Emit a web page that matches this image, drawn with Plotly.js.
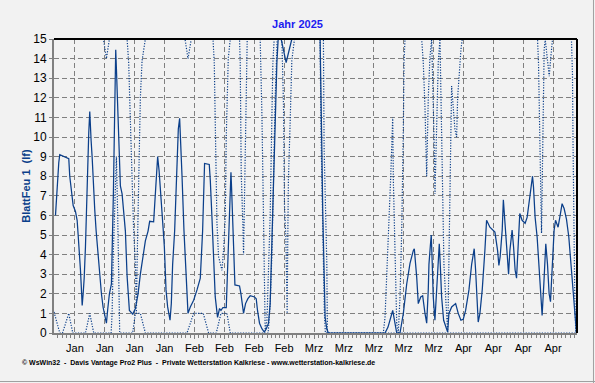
<!DOCTYPE html>
<html><head><meta charset="utf-8">
<script src="https://cdn.plot.ly/plotly-3.0.1.min.js"></script>
<style>html,body{margin:0;padding:0;background:#f2f2f2;}#chart{width:595px;height:383px;}</style>
</head><body><div id="chart"></div>
<script>
// x values: days since 1 Jan 2025 00:00
const tickDays   = [5,12,19,26,33,40,47,54,61,68,75,82,89,96,103,110,117];
const tickLabels = ['Jan','Jan','Jan','Jan','Feb','Feb','Feb','Feb','Mrz','Mrz','Mrz','Mrz','Mrz','Apr','Apr','Apr','Apr'];

// average leaf wetness (solid line)
const avgDay = [
 0.44,0.67,0.98,1.21,1.44,3.55,3.78,4.34,4.58,5.12,
 5.51,5.75,6.12,6.29,6.52,6.69,6.92,7.16,7.46,7.69,
 8.0,8.23,8.47,8.63,8.79,9.02,9.4,9.63,9.96,10.33,
 10.8,11.2,11.6,12.13,12.37,12.67,13.07,13.54,13.77,14.0,
 14.24,14.47,14.55,14.71,14.94,15.17,15.41,15.64,16.04,16.42,
 16.81,17.21,17.44,17.75,18.38,18.52,19.15,19.78,20.32,20.95,
 21.49,22.12,22.5,23.43,23.83,24.06,24.37,24.7,25.0,25.4,
 25.63,25.94,26.33,26.71,27.27,27.57,27.88,28.35,28.82,29.21,
 29.52,29.75,30.08,30.54,31.08,31.48,32.02,32.8,33.59,34.36,
 34.9,35.36,36.46,36.7,37.09,37.47,37.86,38.4,38.87,39.2,
 39.66,40.44,40.74,41.07,41.3,41.54,41.68,41.92,42.15,42.47,
 43.55,43.88,44.49,44.96,45.51,46.05,47.06,47.46,47.76,48.23,
 48.79,49.33,49.8,50.34,50.73,50.97,51.36,51.67,51.97,52.3,
 52.6,53.3,54.47,55.8,62.42,62.58,62.82,63.05,63.36,63.6,
 64.0,64.37,77.63,78.33,79.43,80.37,81.14,81.92,82.71,83.48,
 84.25,84.49,85.05,85.42,85.99,86.45,86.99,87.39,87.76,87.92,
 88.23,88.46,88.7,88.93,89.32,89.72,90.1,90.34,90.57,90.89,
 91.36,91.83,92.3,92.6,93.24,94.17,94.78,95.41,95.95,96.51,
 97.29,97.92,98.52,98.85,99.15,99.46,99.86,100.4,101.02,101.42,
 102.2,102.97,103.37,104.0,104.3,104.6,105.08,105.35,105.7,105.94,
 106.25,106.57,106.87,107.17,107.4,107.74,108.11,108.44,108.74,109.2,
 109.75,110.45,110.92,111.39,111.79,112.18,112.41,112.79,113.26,113.58,
 114.05,114.43,114.83,115.29,115.69,116.07,116.39,116.77,117.24,117.57,
 118.17,118.73,119.11,119.58,120.14,120.68,121.15,121.69,122.08,122.48
];
const avgVal = [
 6.0,7.0,8.0,8.7,9.1,8.9,8.0,7.0,6.5,6.2,
 5.75,5.0,4.0,3.2,2.2,1.4,2.0,2.8,4.4,6.3,
 8.3,10.2,11.3,10.8,9.8,9.0,7.1,6.3,5.2,4.2,
 3.0,2.0,1.3,0.65,0.5,1.2,2.0,2.5,4.2,7.1,
 10.4,12.9,14.45,13.5,12.1,10.4,8.3,7.5,7.1,6.3,
 5.2,2.9,1.8,1.15,1.0,0.95,1.25,2.0,3.0,3.9,
 4.7,5.2,5.7,5.67,6.95,8.0,9.0,8.3,7.5,6.3,
 5.4,4.4,2.2,1.33,0.65,1.5,3.5,5.2,7.8,10.4,
 10.95,10.0,8.0,5.2,2.35,1.0,1.33,1.67,2.2,2.8,
 5.2,8.65,8.6,7.8,5.9,3.5,1.84,0.8,1.25,1.15,
 1.3,1.3,3.5,5.2,7.45,8.2,7.45,5.9,3.5,2.45,
 2.4,2.0,1.0,1.5,1.75,1.9,1.84,1.75,1.15,0.5,
 0.22,0.05,0.2,0.5,1.5,3.5,6.6,9.5,12.1,13.8,
 15,15,13.8,15,15,13.25,9.5,6.1,2.7,0.8,
 0.2,0,0,0.3,1.15,0,0,1.0,2.5,3.55,
 4.2,4.3,2.85,1.5,1.84,1.9,1.0,0.5,2.2,3.5,
 4.4,5.0,3.5,1.84,0.65,2.0,3.5,4.55,3.5,1.84,
 0.65,0.3,0.05,1.0,1.33,1.5,1.0,0.65,0.7,1.15,
 2.2,3.5,4.3,3.2,1.84,0.56,1.0,2.2,4.2,5.75,
 5.4,5.25,5.15,4.2,3.45,3.9,5.25,6.8,5.75,4.9,
 3.9,3.0,4.2,4.9,5.25,4.4,3.2,2.8,4.4,6.1,
 5.75,5.6,5.9,6.6,7.45,8.0,7.45,5.9,4.9,3.9,
 2.2,0.9,2.5,4.55,3.5,2.0,1.6,3.5,5.25,5.75,
 5.4,6.1,6.6,6.35,5.8,4.9,3.55,1.84,1.0,0
];

// upper dotted series
const maxDay = [
 0.1,11.67,12.37,13.07,17.21,17.59,17.82,18.15,18.52,18.75,
 19.15,19.39,19.55,19.92,20.32,20.72,21.49,30.78,31.48,32.25,
 37.33,37.63,37.98,38.26,38.64,39.43,39.81,40.2,40.44,40.91,
 41.38,43.55,43.71,43.95,44.35,44.49,45.05,45.35,48.39,48.79,
 49.16,49.4,49.56,49.96,50.73,51.13,51.36,51.67,63.2,63.36,
 63.6,64.0,64.14,77.23,77.63,78.02,78.4,78.64,78.97,79.2,
 79.43,79.58,79.81,80.14,80.37,80.74,81.14,81.54,81.77,81.92,
 82.08,82.31,86.22,86.59,86.99,87.39,87.76,88.16,88.56,88.93,
 89.16,89.33,89.72,90.1,90.5,90.73,90.89,91.13,91.43,91.83,
 92.06,92.3,92.44,92.67,93.0,93.23,94.0,94.4,94.64,94.94,
 95.41,95.72,113.35,113.58,113.75,113.99,114.15,114.29,114.52,114.68,
 114.91,115.15,115.45,115.69,116.09,116.48,116.86,121.3,121.54,121.68,
 121.85,122.08,122.31,122.6
];
const maxVal = [
 15,15,14,15,15,13.76,12.0,9.5,7.8,5.2,
 3.5,1.0,3.5,7.8,12,13.9,15,15,14.0,15,
 15,13.8,9,5.6,3.9,3.2,4.2,5.9,10,14,
 15,15,13.8,8.1,5.4,4.0,11.2,15,15,11.2,
 6,2,0.1,0.6,6,11,13.8,15,15,9.5,
 7,3.5,0,0,0.8,2.7,4.55,5.9,8,9.5,
 11.0,7.8,5.6,2.5,0.5,0,1.84,5.2,7.8,10.4,
 13.8,15,15,13.8,11.5,8.0,12.0,14.1,15,12,
 9.5,7.1,10.4,13.8,15,12,8.65,6.1,3.5,1.84,
 0.65,0.05,1.5,5.25,8.3,12.6,10.4,10.0,12,13.1,
 14.45,15,15,13.8,11.2,8,6.3,5.1,8.65,12,
 14.45,15,14.45,13.8,13.1,14.1,15,15,13.2,9.5,
 5.25,1.84,0,0
];

// lower dotted series
const minDay = [
 0.1,1.44,2.08,3.55,4.49,7.46,8.47,9.4,13.47,13.7,
 14.0,14.47,14.71,15.01,15.25,15.48,18.52,19.15,20.32,21.49,
 31.25,32.8,35.06,36.3,38.1,39.2,40.6,41.38,50.26,50.73,
 51.13,51.5,51.9,52.37,53.47,53.84,54.08,54.4,54.64,54.71,
 54.87,55.0,55.4,55.8,56.42,62.42,62.65,63.05,63.43,63.66,
 122.6
];
const minVal = [
 1.07,0,0,1.0,0,0,1.0,0,0,1.0,
 4.2,7.0,9.0,6,2,0,0,1.0,1.0,0,
 0,1.0,1.0,0,0,1.0,1.0,0,0,1.5,
 4,8,12,15,15,11.7,6.5,4.9,2.5,1.0,
 5.2,7.8,10.7,13.9,15,15,10,5,1,0,
 0
];

const lineColor = '#0b3f8a';
const gridCol = '#808080';

const traces = [
  {x:maxDay, y:maxVal, type:'scatter', mode:'lines', line:{color:lineColor, width:1.2, dash:'1.2px,1.5px'}, hoverinfo:'skip'},
  {x:minDay, y:minVal, type:'scatter', mode:'lines', line:{color:lineColor, width:1.2, dash:'1.2px,1.5px'}, hoverinfo:'skip'},
  {x:avgDay, y:avgVal, type:'scatter', mode:'lines', line:{color:lineColor, width:1.25}, hoverinfo:'skip'}
];

const layout = {
  width:595, height:383,
  paper_bgcolor:'#f2f2f2', plot_bgcolor:'#f2f2f2',
  margin:{l:54, r:18, t:39, b:50, pad:0},
  showlegend:false,
  font:{family:'Arial, Liberation Sans, sans-serif', size:11, color:'#000'},
  title:{text:'Jahr 2025', font:{family:'Arial, Liberation Sans, sans-serif', size:11, color:'#1c1cf0', weight:'bold'},
         x:0.5, xref:'container', xanchor:'center', y:1-24/383, yref:'container', yanchor:'middle'},
  xaxis:{
    range:[0.09,122.6], tickmode:'array', tickvals:tickDays, ticktext:tickLabels,
    showgrid:true, gridcolor:gridCol, gridwidth:1, griddash:'5px,3px',
    zeroline:false, showline:true, linecolor:gridCol, linewidth:2,
    ticks:'outside', ticklen:4, tickcolor:gridCol, tickwidth:1,
    tickfont:{family:'Arial, Liberation Sans, sans-serif', size:11, color:'#000'},
    minor:{tickmode:'linear', tick0:0, dtick:1, ticks:'outside', ticklen:3, tickcolor:gridCol, showgrid:false}
  },
  yaxis:{
    range:[0,15], tickmode:'linear', tick0:0, dtick:1,
    showgrid:true, gridcolor:gridCol, gridwidth:1, griddash:'5px,3px',
    zeroline:false, showline:true, linecolor:gridCol, linewidth:2,
    ticks:'outside', ticklen:3, tickcolor:gridCol, tickwidth:1,
    tickfont:{family:'Arial, Liberation Sans, sans-serif', size:12, color:'#000'},
    title:{text:'BlattFeu 1  (lf)', standoff:0, font:{family:'Arial, Liberation Sans, sans-serif', size:11, color:'#0b3f8a', weight:'bold'}}
  },
  shapes:[
    {type:'line', xref:'paper', yref:'paper', x0:0, x1:1, y0:1, y1:1, line:{color:'#000', width:2}},
    {type:'line', xref:'paper', yref:'paper', x0:1, x1:1, y0:0, y1:1, line:{color:'#000', width:2}},
    {type:'line', xref:'paper', yref:'paper', x0:-0.2, x1:1.04, y0:-0.165, y1:-0.165, line:{color:'#a0a0a0', width:1}},
    {type:'line', xref:'paper', yref:'paper', x0:1.0315, x1:1.0315, y0:-0.2, y1:1.2, line:{color:'#a0a0a0', width:1}}
  ],
  annotations:[
    {text:'© WsWin32  -  Davis Vantage Pro2 Plus  -  Private Wetterstation Kalkriese - www.wetterstation-kalkriese.de',
     xref:'paper', yref:'paper', x:(20-54)/523, y:(333-363)/294, xanchor:'left', yanchor:'middle', showarrow:false,
     font:{family:'Arial, Liberation Sans, sans-serif', size:7, color:'#000', weight:'bold'}}
  ]
};

Plotly.newPlot('chart', traces, layout, {staticPlot:true, displayModeBar:false});
</script></body></html>
